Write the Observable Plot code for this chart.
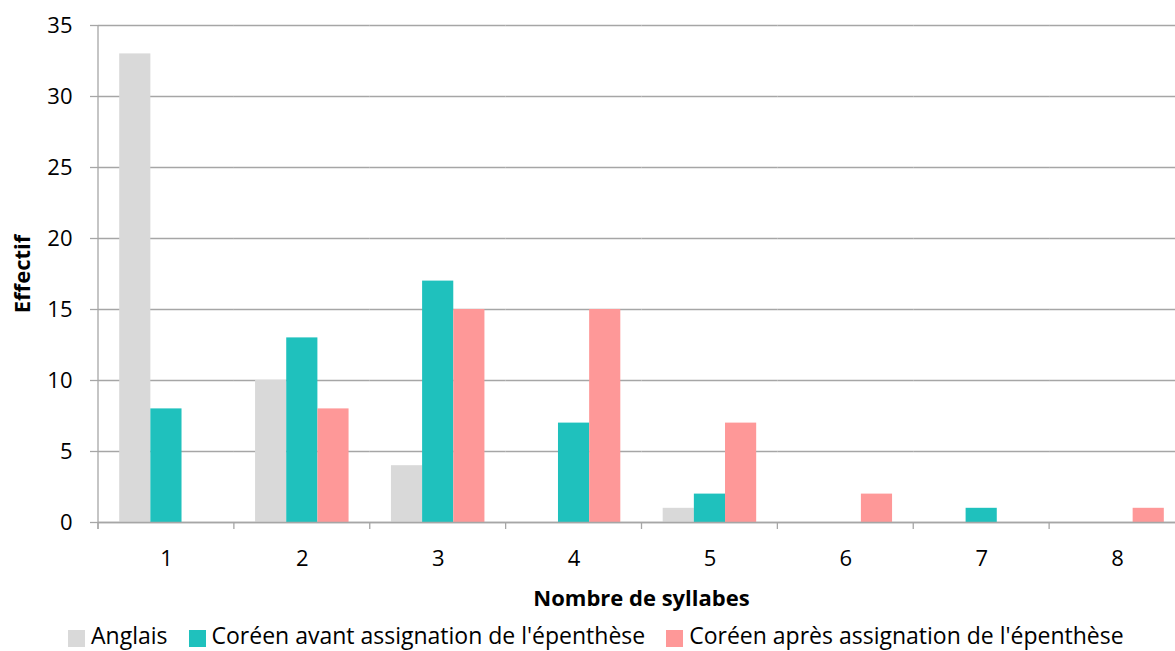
<!DOCTYPE html>
<html><head><meta charset="utf-8">
<script src="https://cdn.jsdelivr.net/npm/d3@7"></script>
<script src="https://cdn.jsdelivr.net/npm/@observablehq/plot@0.6"></script>
<style>
html,body{margin:0;padding:0;background:#fff;}
#wrap{position:relative;width:1175px;height:651px;overflow:hidden;font-family:"Open Sans",sans-serif;color:#000;}
#chart{position:absolute;left:0;top:0;width:1185px;}
#chart svg{max-width:none !important;}
#xtitle{position:absolute;left:98px;width:1087px;top:583px;text-align:center;font-weight:bold;font-size:22px;line-height:28px;}
#legend{position:absolute;left:68px;top:620px;display:flex;align-items:center;font-size:23px;line-height:31px;white-space:nowrap;}
#legend .item{display:flex;align-items:center;margin-right:21px;}
#legend .sw{width:17px;height:17px;margin-right:6px;position:relative;top:3px;}
svg [aria-label="y-axis label"]{font-weight:bold;font-size:22px;}
</style></head><body>
<div id="wrap"><div id="chart"></div><div id="xtitle">Nombre de syllabes</div><div id="legend"></div></div>
<script>
const categories = ["1","2","3","4","5","6","7","8"];
const seriesNames = ["Anglais","Coréen avant assignation de l'épenthèse","Coréen après assignation de l'épenthèse"];
const anglais = [33,10,4,0,1,0,0,0];
const coreenAvant = [8,13,17,7,2,0,1,0];
const coreenApres = [0,8,15,15,7,2,0,1];
const colors = ["#d9d9d9","#1fc1bd","#fe9898"];
const yTicks = [0,5,10,15,20,25,30,35];

const seriesValues = [anglais, coreenAvant, coreenApres];
const data = categories.flatMap((c, i) => seriesNames.map((s, j) => ({cat: c, series: s, value: seriesValues[j][i]}))).filter(d => d.value > 0);

const gridColor = "#a6a6a6";
let drawn = false;
const decorations = (index, scales, values, dims) => {
  if (drawn) return null;
  drawn = true;
  const g = d3.create("svg:g");
  const y0 = scales.y(0);
  const left = scales.fx(categories[0]);
  g.append("line").attr("x1", left).attr("x2", left)
    .attr("y1", scales.y(35)).attr("y2", y0 + 7).attr("stroke", gridColor).attr("stroke-width", 1.3);
  for (const c of categories) {
    const xb = scales.fx(c);
    g.append("line").attr("x1", xb).attr("x2", xb).attr("y1", y0).attr("y2", y0 + 7)
      .attr("stroke", gridColor).attr("stroke-width", 1.3);
  }
  return g.node();
};

const chart = Plot.plot({
  width: 1185,
  height: 580,
  marginLeft: 98,
  marginRight: 0,
  marginTop: 25,
  marginBottom: 58,
  style: {fontFamily: "'Open Sans', sans-serif", fontSize: "22px", color: "#000", background: "#fff", overflow: "visible"},
  fx: {domain: categories, padding: 0, round: false, label: null},
  x: {domain: seriesNames, paddingInner: 0, paddingOuter: 0.68, round: false, axis: null},
  y: {domain: [0, 35], label: "Effectif"},
  color: {domain: seriesNames, range: colors},
  marks: [
    Plot.gridY(yTicks, {stroke: gridColor, strokeOpacity: 1, strokeWidth: 1.3}),
    Plot.barY(data, {fx: "cat", x: "series", y: "value", fill: "series"}),
    Plot.ruleY([0], {stroke: gridColor, strokeWidth: 1.3}),
    Plot.axisY(yTicks, {tickSize: 8, tickPadding: 18, stroke: gridColor, strokeWidth: 1.3, label: "Effectif", labelAnchor: "center", labelOffset: 84, labelArrow: false}),
    Plot.axisFx({anchor: "bottom", tickSize: 0, tickPadding: 28, label: null}),
    decorations
  ]
});
document.getElementById("chart").appendChild(chart);

const legend = d3.select("#legend");
seriesNames.forEach((s, i) => {
  const it = legend.append("div").attr("class", "item");
  it.append("div").attr("class", "sw").style("background", colors[i]);
  it.append("span").text(s);
});
</script>
</body></html>
